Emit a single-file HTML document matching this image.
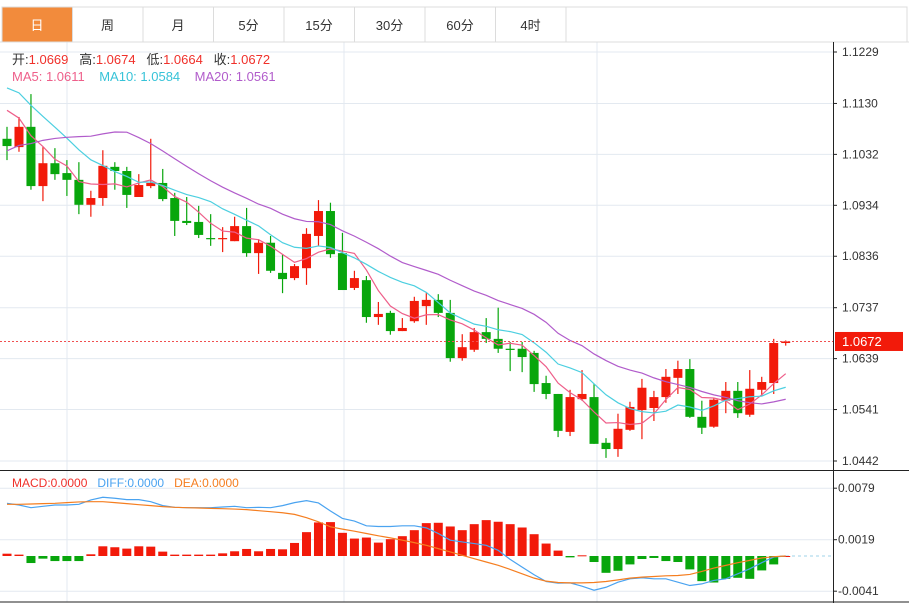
<!DOCTYPE html>
<html><head><meta charset="utf-8">
<style>
html,body{margin:0;padding:0;background:#fff;}
svg{display:block;font-family:"Liberation Sans","Noto Sans CJK SC",sans-serif;}
</style></head>
<body>
<svg id="c" width="909" height="603" viewBox="0 0 909 603" xmlns="http://www.w3.org/2000/svg">
  <g id="tabs"></g>
  <g id="grid"></g>
  <g id="candles"></g>
  <g id="malines"></g>
  <g id="macd"></g>
  <g id="axes"></g>
  <g id="legend"></g>
</svg>
<script>
const tabLabels=["日","周","月","5分","15分","30分","60分","4时"];
const priceTicks=[1.1229,1.1130,1.1032,1.0934,1.0836,1.0737,1.0639,1.0541,1.0442];
const macdTicks=[0.0079,0.0019,-0.0041];
const priorCloses=[1.088,1.090,1.089,1.092,1.094,1.091,1.093,1.092,1.093,1.096,1.118,1.121,1.123,1.120,1.1195,1.116,1.114,1.112,1.1116];
const opens=[1.1062,1.1046,1.1085,1.0971,1.1015,1.0996,1.0983,1.0935,1.0948,1.1008,1.1000,1.0950,1.0971,1.0977,1.0948,1.0904,1.0902,1.0871,1.0870,1.0865,1.0894,1.0842,1.0862,1.0804,1.0794,1.0813,1.0875,1.0923,1.0842,1.0775,1.0790,1.0719,1.0727,1.0692,1.0711,1.0740,1.0752,1.0727,1.0640,1.0656,1.0690,1.0677,1.0658,1.0658,1.0650,1.0592,1.0571,1.0498,1.0561,1.0565,1.0477,1.0465,1.0502,1.0540,1.0544,1.0565,1.0602,1.0619,1.0527,1.0508,1.0558,1.0577,1.0531,1.0579,1.0592,1.0669];
const highs=[1.1085,1.1104,1.1148,1.1046,1.1044,1.1021,1.1017,1.0962,1.1040,1.1017,1.1008,1.0994,1.1062,1.1004,1.0958,1.0950,1.0933,1.0917,1.0892,1.0912,1.0929,1.0869,1.0875,1.0840,1.0821,1.0890,1.0944,1.0939,1.0881,1.0808,1.0798,1.0748,1.0731,1.0717,1.0758,1.0765,1.0763,1.0752,1.0686,1.0698,1.0717,1.0737,1.0671,1.0671,1.0654,1.0606,1.0571,1.0579,1.0617,1.0590,1.0486,1.0533,1.0556,1.0600,1.0577,1.0619,1.0635,1.0638,1.0558,1.0563,1.0594,1.0594,1.0617,1.0604,1.0677,1.0674];
const lows=[1.1021,1.1037,1.0964,1.0942,1.0983,1.0952,1.0917,1.0912,1.0933,1.0964,1.0929,1.0950,1.0967,1.0942,1.0875,1.0896,1.0871,1.0856,1.0844,1.0865,1.0835,1.0802,1.0804,1.0765,1.0790,1.0781,1.0856,1.0833,1.0771,1.0771,1.0708,1.0704,1.0685,1.0692,1.0708,1.0704,1.0719,1.0633,1.0635,1.0652,1.0669,1.0650,1.0615,1.0613,1.0575,1.0561,1.0488,1.0490,1.0558,1.0475,1.0448,1.0450,1.0500,1.0484,1.0519,1.0554,1.0571,1.0525,1.0494,1.0506,1.0534,1.0525,1.0527,1.0567,1.0571,1.0664];
const closes=[1.1048,1.1085,1.0971,1.1015,1.0994,1.0983,1.0935,1.0948,1.1010,1.1000,1.0954,1.0973,1.0977,1.0946,1.0904,1.0900,1.0877,1.0870,1.0871,1.0894,1.0842,1.0862,1.0808,1.0792,1.0817,1.0879,1.0923,1.0840,1.0771,1.0794,1.0719,1.0725,1.0692,1.0698,1.0750,1.0752,1.0727,1.0640,1.0661,1.0690,1.0677,1.0658,1.0657,1.0642,1.0590,1.0571,1.0500,1.0565,1.0571,1.0475,1.0465,1.0504,1.0546,1.0583,1.0565,1.0604,1.0619,1.0527,1.0506,1.0560,1.0577,1.0534,1.0581,1.0594,1.0669,1.0672];
// MACD values in units of 1e-4
const macdHist=[2.7,1.6,-8.2,-3.1,-5.9,-5.9,-5.9,2.0,11.3,10.2,8.6,11.3,10.9,5.1,1.6,1.6,1.6,1.6,3.1,5.5,8.2,5.5,8.2,7.8,15.2,27.8,39.1,39.5,27.0,20.3,21.5,15.6,19.6,23.1,30.1,38.3,38.7,34.4,30.1,37.1,41.8,39.9,37.1,33.2,25.4,14.5,6.3,-1.6,0.8,-7.0,-19.6,-17.2,-9.8,-3.5,-2.3,-5.9,-7.0,-15.6,-29.3,-30.9,-26.6,-25.4,-26.6,-16.8,-9.8,0];
const diffVals=[61.4,59.4,56.3,57.9,59.4,59.4,60.2,65.3,68.4,67.3,65.7,65.7,63.3,58.7,56.7,56.3,56.3,56.3,57.1,57.9,56.3,56.7,56.3,58.7,62.2,64.5,61.8,52.4,43.8,40.7,35.2,34.4,34.4,35.2,35.2,32.8,26.2,18.4,16.4,14.5,12.5,6.6,-3.9,-12.9,-21.9,-29.7,-31.7,-31.3,-35.2,-39.9,-36.4,-30.5,-26.6,-25.4,-26.6,-26.6,-30.5,-34.4,-32.5,-28.5,-26.6,-20.7,-14.9,-7.8,-1.2,0];
const deaVals=[60.2,60.2,60.6,61.0,61.4,62.2,63.0,63.3,63.3,62.2,61.0,59.8,58.7,57.5,56.7,56.3,55.9,55.5,55.1,54.7,54.0,52.8,51.6,50.4,48.5,44.6,39.9,34.0,31.3,28.9,26.2,23.5,21.1,18.4,15.6,12.5,8.6,4.7,0.8,-3.1,-7.0,-10.9,-15.6,-20.7,-25.8,-29.3,-30.9,-31.3,-31.3,-30.9,-29.7,-27.8,-25.8,-24.6,-23.9,-23.1,-22.7,-21.5,-18.0,-14.1,-10.9,-7.8,-5.1,-2.3,-0.8,0];
const lastPrice=1.0672;

const NS="http://www.w3.org/2000/svg";
function mk(tag,attrs,parent){const e=document.createElementNS(NS,tag);for(const k in attrs)e.setAttribute(k,attrs[k]);parent.appendChild(e);return e;}
const PLOT_R=833;
const yP=p=>52+(1.1229-p)*5197;
const yM=v=>556-v*1e-4*8583;
const xI=i=>7+i*11.98;
const RED="#f21a0a",GREEN="#08a60c";

// tabs
const tabs=document.getElementById('tabs');
mk('rect',{x:2,y:7,width:905,height:35,fill:'#fff',stroke:'#dcdcdc'},tabs);
tabLabels.forEach((t,i)=>{
  const x=2+i*70.5;
  const r=mk('rect',{x:x,y:7,width:70.5,height:35,fill:i===0?'#f28b3c':'#fff',stroke:'#dcdcdc'},tabs);
  
  
  const tx=mk('text',{x:x+35,y:30,'text-anchor':'middle','font-size':13,fill:i===0?'#fff':'#333'},tabs);
  tx.textContent=t;
  
  
});

// grid
const grid=document.getElementById('grid');
const gc="#e3e9f0";
priceTicks.forEach(p=>{const l=mk('line',{x1:0,x2:PLOT_R,y1:yP(p),y2:yP(p),stroke:gc},grid);});
macdTicks.forEach(v=>{const l=mk('line',{x1:0,x2:PLOT_R,y1:yM(v*1e4),y2:yM(v*1e4),stroke:gc},grid);});
[67,344,597].forEach(x=>{mk('line',{x1:x,x2:x,y1:42,y2:602,stroke:gc},grid);});

// candles
const cg=document.getElementById('candles');
closes.forEach((c,i)=>{
  const o=opens[i],up=c>=o,col=up?RED:GREEN,x=xI(i);
  const w=mk('line',{x1:x,x2:x,y1:yP(highs[i]),y2:yP(lows[i]),stroke:col,'stroke-width':1.2},cg);
  
  
  const top=yP(Math.max(o,c)),bot=yP(Math.min(o,c));
  const b=mk('rect',{x:x-4.5,y:top,width:9,height:Math.max(1.2,bot-top),fill:col},cg);
  
  
});

// MA lines
const all=priorCloses.concat(closes);
function ma(n){return closes.map((_,i)=>{const j=i+priorCloses.length;let s=0,k=0;for(let q=j-n+1;q<=j;q++){if(q>=0){s+=all[q];k++;}}return s/k;});}
const mg=document.getElementById('malines');
[[5,'#ee5f8a','ma5-line'],[10,'#4ccfe0','ma10-line'],[20,'#b15ccb','ma20-line']].forEach(([n,col,name])=>{
  const v=ma(n);
  const pl=mk('polyline',{points:v.map((p,i)=>xI(i)+','+yP(p)).join(' '),fill:'none',stroke:col,'stroke-width':1.2},mg);
  
  
});
// last price line
const lp=mk('line',{x1:0,x2:PLOT_R,y1:yP(lastPrice),y2:yP(lastPrice),stroke:'#f05050','stroke-dasharray':'2,2'},mg);



// MACD
const mc=document.getElementById('macd');
const zl=mk('line',{x1:780,x2:PLOT_R,y1:yM(0),y2:yM(0),stroke:'#9fd3ea','stroke-dasharray':'3,3'},mc);
macdHist.forEach((v,i)=>{
  const x=xI(i),y0=yM(0),y1=yM(v);
  const b=mk('rect',{x:x-4.5,y:Math.min(y0,y1),width:9,height:Math.max(1,Math.abs(y1-y0)),fill:v>=0?RED:GREEN},mc);
  
  
});
const dl=mk('polyline',{points:diffVals.map((v,i)=>xI(i)+','+yM(v)).join(' '),fill:'none',stroke:'#4aa3f0','stroke-width':1.2},mc);


const el=mk('polyline',{points:deaVals.map((v,i)=>xI(i)+','+yM(v)).join(' '),fill:'none',stroke:'#f57e20','stroke-width':1.2},mc);



// axes
const ax=document.getElementById('axes');
mk('line',{x1:0,x2:909,y1:42,y2:42,stroke:'#dcdcdc'},ax);
mk('line',{x1:0,x2:909,y1:470.5,y2:470.5,stroke:'#222'},ax);
mk('line',{x1:0,x2:909,y1:602,y2:602,stroke:'#222'},ax);
mk('line',{x1:PLOT_R+0.5,x2:PLOT_R+0.5,y1:42,y2:603,stroke:'#222'},ax);
priceTicks.forEach(p=>{
  mk('line',{x1:PLOT_R,x2:PLOT_R+4,y1:yP(p),y2:yP(p),stroke:'#222'},ax);
  const t=mk('text',{x:842,y:yP(p)+4,'font-size':12,fill:'#333'},ax);
  t.textContent=p.toFixed(4);
  
  
});
macdTicks.forEach(v=>{
  const y=yM(v*1e4);
  mk('line',{x1:PLOT_R,x2:PLOT_R+4,y1:y,y2:y,stroke:'#222'},ax);
  const t=mk('text',{x:838,y:y+4,'font-size':12,fill:'#333'},ax);
  t.textContent=(v<0?'-':'')+Math.abs(v).toFixed(4);
  
  
});
const lb=mk('rect',{x:835,y:yP(lastPrice)-9.5,width:68,height:19,fill:'#f21a0a'},ax);


const lt=mk('text',{x:842,y:yP(lastPrice)+4.5,'font-size':13,fill:'#fff'},ax);
lt.textContent=lastPrice.toFixed(4);

// legend
const lg=document.getElementById('legend');
function txt(parts,x,y,name){
  const t=mk('text',{x:x,y:y,'font-size':13},lg);
  
  
  parts.forEach(([s,c])=>{const sp=mk('tspan',{fill:c},t);sp.textContent=s;});
}
txt([["开:","#333"],["1.0669","#f0302a"],["   高:","#333"],["1.0674","#f0302a"],["   低:","#333"],["1.0664","#f0302a"],["   收:","#333"],["1.0672","#f0302a"]],12,64,'ohlc-legend');
txt([["MA5: 1.0611","#ee5f8a"],["    MA10: 1.0584","#37c3d8"],["    MA20: 1.0561","#b15ccb"]],12,81,'ma-legend');
const ml=mk('text',{x:12,y:487,'font-size':12},lg);


[["MACD:0.0000","#f0302a"],["   DIFF:0.0000","#4aa3f0"],["   DEA:0.0000","#f57e20"]].forEach(([s,c])=>{const sp=mk('tspan',{fill:c},ml);sp.setAttribute('xml:space','preserve');sp.textContent=s;});
document.querySelectorAll('#legend text').forEach(t=>t.setAttribute('style','white-space:pre'));
</script>
</body></html>
